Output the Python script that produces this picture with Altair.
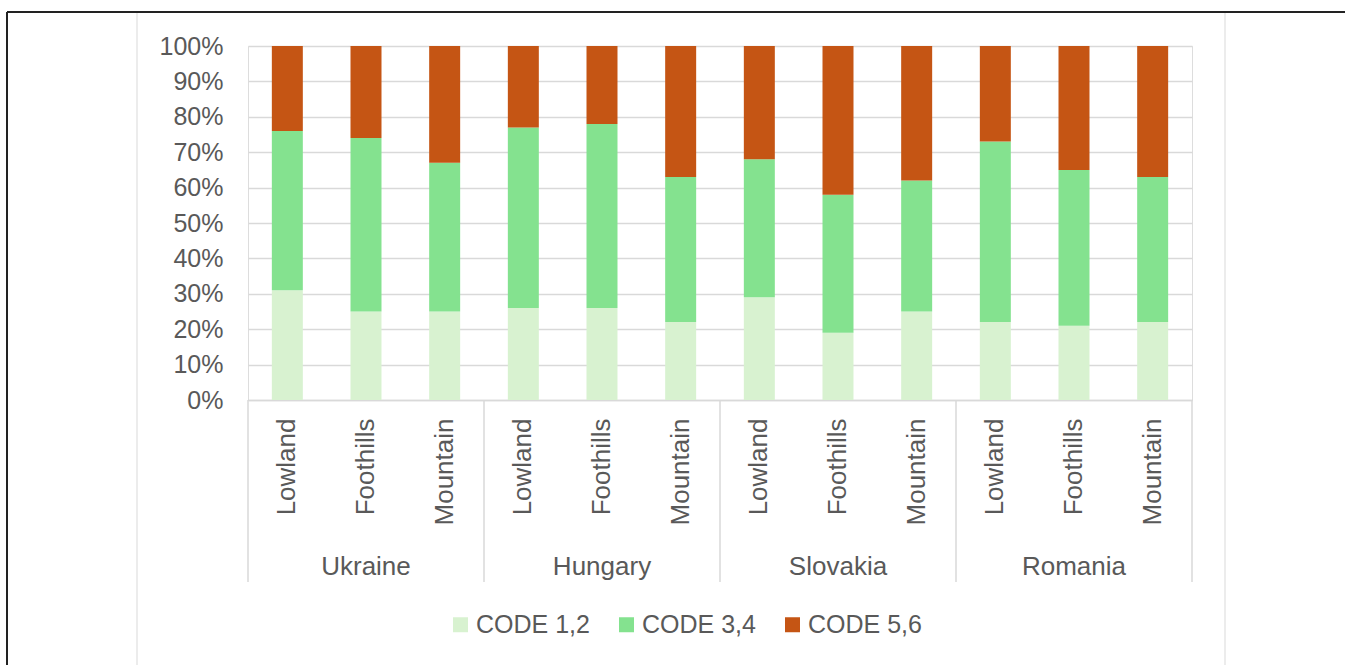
import altair as alt
import pandas as pd

countries = ["Ukraine", "Hungary", "Slovakia", "Romania"]
terrains = ["Lowland", "Foothills", "Mountain"]
series = ["CODE 1,2", "CODE 3,4", "CODE 5,6"]
code12 = [31, 25, 25, 26, 26, 22, 29, 19, 25, 22, 21, 22]
code34 = [45, 49, 42, 51, 52, 41, 39, 39, 37, 51, 44, 41]
code56 = [24, 26, 33, 23, 22, 37, 32, 42, 38, 27, 35, 37]
y_ticks = [0, 10, 20, 30, 40, 50, 60, 70, 80, 90, 100]
colors = ["#d8f2d0", "#84e28f", "#c55514"]

FONT = "Liberation Sans"
TXT = "#595959"
GRID = "#d9d9d9"

rows = []
cats = []
i = 0
for c in countries:
    for t in terrains:
        cat = f"{c}|{t}"
        cats.append(cat)
        for s_idx, (s, vals) in enumerate(zip(series, [code12, code34, code56])):
            rows.append(dict(cat=cat, country=c, terrain=t, series=s,
                             order=s_idx, value=vals[i]))
        i += 1
df = pd.DataFrame(rows)

country_df = pd.DataFrame({"cat": [f"{c}|{terrains[1]}" for c in countries],
                           "country": countries})
edges_df = pd.DataFrame({"edge": list(range(len(countries) + 1))})
frame_df = pd.DataFrame({"k": [0]})


def xscale():
    return alt.Scale(domain=cats, paddingInner=0.606, paddingOuter=0.303)


bars = alt.Chart(df).mark_bar().encode(
    x=alt.X("cat:N", scale=xscale(), sort=cats, title=None,
            axis=alt.Axis(labelExpr="split(datum.label, '|')[1]", labelAngle=270,
                          ticks=False, domainColor=GRID, domainWidth=1.5,
                          labelPadding=18, labelFontSize=26, labelColor=TXT,
                          labelOverlap=False, grid=False, labelFont=FONT)),
    y=alt.Y("value:Q", stack="zero", scale=alt.Scale(domain=[0, 100]), title=None,
            axis=alt.Axis(values=y_ticks, labelExpr="datum.value + '%'", domain=False,
                          ticks=False, gridColor=GRID, gridWidth=1.5, labelPadding=25,
                          labelFontSize=25, labelColor=TXT, labelFont=FONT)),
    color=alt.Color("series:N", scale=alt.Scale(domain=series, range=colors),
                    legend=alt.Legend(title=None, orient="none", direction="horizontal",
                                      legendX=200, legendY=566, symbolType="square",
                                      symbolSize=225, symbolStrokeWidth=0,
                                      labelFontSize=25, labelColor=TXT, labelFont=FONT,
                                      columnPadding=24, labelOffset=3, padding=0)),
    order=alt.Order("order:Q"),
)

text = alt.Chart(country_df).mark_text(fontSize=26, color=TXT, baseline="middle",
                                       font=FONT).encode(
    x=alt.X("cat:N", scale=xscale(), axis=None),
    y=alt.value(521),
    text="country:N",
)

sep = alt.Chart(edges_df).mark_rule(color=GRID, strokeWidth=1.5).encode(
    x=alt.X("edge:Q", scale=alt.Scale(domain=[0, len(countries)]), axis=None),
    y=alt.value(354),
    y2=alt.value(536),
)

top_line = alt.Chart(frame_df).mark_rule(color="#222222", strokeWidth=2).encode(
    x=alt.value(-241), x2=alt.value(1097), y=alt.value(-34))
left_line = alt.Chart(frame_df).mark_rule(color="#222222", strokeWidth=2).encode(
    x=alt.value(-241), y=alt.value(-34), y2=alt.value(619))
grey_l = alt.Chart(frame_df).mark_rule(color="#ececec", strokeWidth=2).encode(
    x=alt.value(-111), y=alt.value(-33), y2=alt.value(619))
grey_r = alt.Chart(frame_df).mark_rule(color="#ececec", strokeWidth=2).encode(
    x=alt.value(977), y=alt.value(-33), y2=alt.value(619))

chart = alt.layer(top_line, left_line, grey_l, grey_r, sep, bars, text).resolve_scale(
    x="independent"
).properties(
    width=944, height=354,
    autosize=alt.AutoSizeParams(type="none"),
    padding={"left": 248, "top": 46, "right": 153, "bottom": 265},
    background="white",
).configure_view(stroke=None).configure(font=FONT)

chart.save("out.html", embed_options={"renderer": "svg", "actions": False})
